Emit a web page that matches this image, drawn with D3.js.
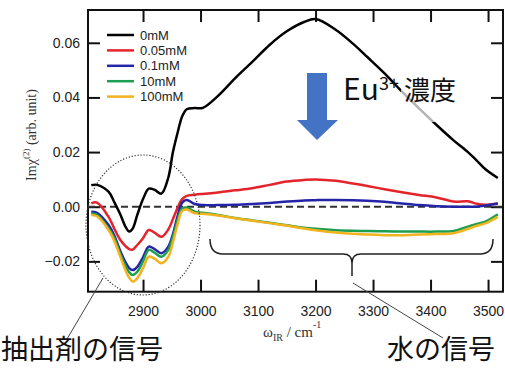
<!DOCTYPE html>
<html><head><meta charset="utf-8">
<script src="https://cdn.jsdelivr.net/npm/d3@7"></script>
<style>body{margin:0;background:#fff} svg{display:block}</style>
</head><body>
<svg id="c" width="505" height="368"></svg>
<script>
// ---- data ----
const wavenumbers = [2810,2820,2840,2850,2860,2870,2876,2882,2890,2900,2910,2920,2932,2944,2952,2960,2968,2976,2990,3004,3030,3060,3090,3120,3150,3180,3200,3235,3265,3290,3320,3350,3380,3410,3440,3465,3480,3495,3517];
const s0mM   = [0.0079,0.0080,0.0055,0.0017,-0.0026,-0.0075,-0.0091,-0.0080,-0.0030,0.0028,0.0066,0.0062,0.0048,0.0107,0.0200,0.0270,0.0330,0.0357,0.0361,0.0362,0.0405,0.0470,0.0530,0.0592,0.0642,0.0676,0.0687,0.0648,0.0597,0.0548,0.0488,0.0422,0.0360,0.0300,0.0243,0.0200,0.0170,0.0138,0.0105];
const s005mM = [0.0012,0.0015,-0.0037,-0.0080,-0.0120,-0.0145,-0.0155,-0.0157,-0.0140,-0.0115,-0.0085,-0.0095,-0.0110,-0.0083,-0.0045,-0.0005,0.0028,0.0040,0.0044,0.0047,0.0052,0.0060,0.0068,0.0080,0.0092,0.0098,0.0100,0.0095,0.0085,0.0076,0.0064,0.0053,0.0043,0.0034,0.0019,0.0020,0.0011,0.0007,0.0012];
const s01mM  = [-0.0018,-0.0022,-0.0067,-0.0105,-0.0160,-0.0205,-0.0225,-0.0232,-0.0220,-0.0185,-0.0146,-0.0155,-0.0170,-0.0146,-0.0100,-0.0035,0.0015,0.0025,0.0010,0.0006,0.0006,0.0007,0.0010,0.0014,0.0019,0.0023,0.0024,0.0025,0.0024,0.0022,0.0018,0.0012,0.0006,0.0002,0.0000,0.0000,0.0000,0.0004,0.0012];
const s10mM  = [-0.0024,-0.0030,-0.0079,-0.0115,-0.0170,-0.0218,-0.0240,-0.0250,-0.0238,-0.0200,-0.0158,-0.0168,-0.0183,-0.0158,-0.0110,-0.0050,-0.0006,-0.0003,-0.0018,-0.0022,-0.0030,-0.0041,-0.0050,-0.0059,-0.0068,-0.0077,-0.0081,-0.0086,-0.0088,-0.0089,-0.0090,-0.0091,-0.0091,-0.0091,-0.0089,-0.0073,-0.0063,-0.0055,-0.0028];
const s100mM = [-0.0030,-0.0035,-0.0085,-0.0125,-0.0180,-0.0235,-0.0260,-0.0274,-0.0262,-0.0225,-0.0183,-0.0190,-0.0207,-0.0183,-0.0130,-0.0065,-0.0015,-0.0010,-0.0024,-0.0026,-0.0032,-0.0042,-0.0051,-0.0060,-0.0069,-0.0080,-0.0086,-0.0094,-0.0099,-0.0102,-0.0104,-0.0104,-0.0102,-0.0100,-0.0097,-0.0081,-0.0070,-0.0061,-0.0037];
const seriesNames = ["0mM","0.05mM","0.1mM","10mM","100mM"];
const xTicks = [2900,3000,3100,3200,3300,3400,3500];
const yTicks = [-0.02,0.00,0.02,0.04,0.06];

// ---- layout / style ----
const colors = ["#000000","#e3242b","#2424a8","#1e9e50","#f2b31e"];
const L=88, R=503, T=10, B=291.7;
const svg = d3.select("#c");
const x = d3.scaleLinear().domain([2804.3,3526]).range([L,R]);
const y = d3.scaleLinear().domain([-0.0311,0.072]).range([B,T]);

svg.append("defs").append("clipPath").attr("id","clip")
  .append("rect").attr("x",L).attr("y",T).attr("width",R-L).attr("height",B-T);

// axes
const fmt = d3.format(".2f");
const gx = svg.append("g").attr("transform",`translate(0,${B})`)
  .call(d3.axisBottom(x).tickValues(xTicks).tickSizeInner(-12).tickSizeOuter(0).tickPadding(14).tickFormat(d3.format("d")));
const gxt = svg.append("g").attr("transform",`translate(0,${T})`)
  .call(d3.axisTop(x).tickValues(xTicks).tickSizeInner(-12).tickSizeOuter(0).tickFormat(""));
const gy = svg.append("g").attr("transform",`translate(${L},0)`)
  .call(d3.axisLeft(y).tickValues(yTicks).tickSizeInner(-12).tickSizeOuter(0).tickPadding(8).tickFormat(fmt));
const gyr = svg.append("g").attr("transform",`translate(${R},0)`)
  .call(d3.axisRight(y).tickValues(yTicks).tickSizeInner(-12).tickSizeOuter(0).tickFormat(""));
[gx,gxt,gy,gyr].forEach(g=>{
  g.select(".domain").remove();
  g.selectAll(".tick line").attr("stroke","#111").attr("stroke-width",2);
  g.selectAll(".tick text").attr("font-family","'Liberation Sans',Arial,sans-serif").attr("font-size",14).attr("fill","#222");
});
svg.append("rect").attr("x",L).attr("y",T).attr("width",R-L).attr("height",B-T)
  .attr("fill","none").attr("stroke","#111").attr("stroke-width",2);

// zero dashed line
svg.append("line").attr("x1",L).attr("x2",R).attr("y1",y(0)).attr("y2",y(0))
  .attr("stroke","#333").attr("stroke-width",1.8).attr("stroke-dasharray","7,4");

// curves
const allSeries = [s0mM,s005mM,s01mM,s10mM,s100mM];
const line = d3.line().x(d=>x(d[0])).y(d=>y(d[1])).curve(d3.curveCatmullRom.alpha(0.5));
const gc = svg.append("g").attr("clip-path","url(#clip)");
allSeries.forEach((s,i)=>{
  gc.append("path").datum(wavenumbers.map((w,k)=>[w,s[k]]))
    .attr("d",line).attr("fill","none").attr("stroke",colors[i])
    .attr("stroke-width",2.5).attr("stroke-linejoin","round");
});

// legend
seriesNames.forEach((n,i)=>{
  const yy = 35 + 15.4*i;
  svg.append("line").attr("x1",107).attr("x2",134).attr("y1",yy).attr("y2",yy)
    .attr("stroke",colors[i]).attr("stroke-width",2.5);
  svg.append("text").attr("x",140).attr("y",yy).attr("dy","0.36em")
    .attr("font-family","'Liberation Sans',Arial,sans-serif").attr("font-size",13).attr("fill","#222").text(n);
});

// Eu arrow + text
svg.append("polygon")
  .attr("points","307,73 327,73 327,120 338,120 317,140 297,120 307,120")
  .attr("fill","#4472c4");
svg.append("rect").attr("x",401).attr("y",72).attr("width",58).attr("height",50)
  .attr("fill","#fff").attr("opacity",0.7);
const jp = "'Noto Sans CJK JP','Noto Sans',sans-serif";
const eu = svg.append("text").attr("x",343).attr("y",100).attr("font-family",jp).attr("fill","#111");
eu.append("tspan").attr("font-size",30).text("Eu");
eu.append("tspan").attr("font-size",18).attr("dy",-10).text("3+");
svg.append("text").attr("x",404).attr("y",100).attr("font-family",jp).attr("font-size",26).attr("fill","#111").text("濃度");

// ellipse around extractant signal
svg.append("ellipse").attr("cx",143).attr("cy",225).attr("rx",57).attr("ry",70)
  .attr("fill","none").attr("stroke","#333").attr("stroke-width",1.2).attr("stroke-dasharray","1.2,1.8");

// brace for water signal
svg.append("path")
  .attr("d","M210,239 Q210,254 223,254 L343,254 Q352,254 352,263 L352,276 M352,263 Q352,254 361,254 L480,254 Q493,254 493,239")
  .attr("fill","none").attr("stroke","#222").attr("stroke-width",1.5);

// pointer lines
svg.append("line").attr("x1",103).attr("y1",278).attr("x2",67).attr("y2",339).attr("stroke","#444").attr("stroke-width",1);
svg.append("line").attr("x1",353).attr("y1",283).attr("x2",443).attr("y2",338).attr("stroke","#444").attr("stroke-width",1);

// bottom labels
svg.append("text").attr("x",1).attr("y",359).attr("font-family",jp).attr("font-size",27).attr("fill","#111").text("抽出剤の信号");
svg.append("text").attr("x",387).attr("y",359).attr("font-family",jp).attr("font-size",27).attr("fill","#111").text("水の信号");

// axis titles
const serif = "'Liberation Serif','Times New Roman',serif";
const xl = svg.append("text").attr("x",263).attr("y",337).attr("font-family",serif).attr("font-size",15).attr("fill","#333");
xl.append("tspan").text("ω");
xl.append("tspan").attr("font-size",10).attr("dy",4).text("IR");
xl.append("tspan").attr("dy",-4).text(" / cm");
xl.append("tspan").attr("font-size",10).attr("dy",-9).text("-1");

const yl = svg.append("text").attr("transform","translate(36,135) rotate(-90)").attr("text-anchor","middle")
  .attr("font-family",serif).attr("font-size",14).attr("fill","#333");
yl.append("tspan").text("Imχ");
yl.append("tspan").attr("font-size",9).attr("dy",-7).text("(2)");
yl.append("tspan").attr("dy",7).text(" (arb. unit)");
</script>
</body></html>
